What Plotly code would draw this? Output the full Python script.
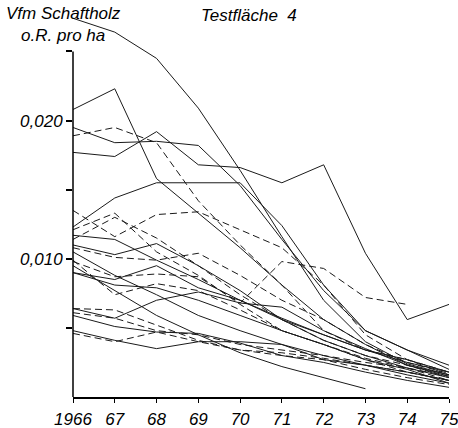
import plotly.graph_objects as go

# Jahre der Aufnahmen (x-Achse)
years = [1966, 1967, 1968, 1969, 1970, 1971, 1972, 1973, 1974, 1975]
year_labels = ["1966", "67", "68", "69", "70", "71", "72", "73", "74", "75"]

# Vfm Schaftholz o.R. pro ha, einzelne Bäume der Testfläche 4
s01 = [0.0274, 0.0264, 0.0245, 0.0209, 0.0164, 0.0116, 0.0070, 0.0040, 0.0024, 0.0016]
s02 = [0.0208, 0.0223, 0.0158, 0.0133, 0.0108, 0.0081, 0.0056, 0.0038, 0.0023, 0.0016]
s03 = [0.0195, 0.0184, 0.0185, 0.0182, 0.0153, 0.0114, 0.0077, 0.0048, 0.0034, 0.0023]
s04 = [0.0177, 0.0174, 0.0192, 0.0168, 0.0166, 0.0155, 0.0168, 0.0104, 0.0056, 0.0067]
s05 = [0.0123, 0.0144, 0.0155, 0.0155, 0.0155, 0.0124, 0.0081, 0.0048, 0.0034, 0.0020]
s06 = [0.0189, 0.0195, 0.0184, 0.0142, 0.0110, 0.0081, 0.0048, 0.0034, 0.0027, 0.0018]
s07 = [0.0135, 0.0116, 0.0132, 0.0134, 0.0121, 0.0108, 0.0081, 0.0045, 0.0027, 0.0016]
s08 = [0.0121, 0.0133, 0.0105, 0.0088, 0.0067, 0.0048, 0.0038, 0.0027, 0.0018, 0.0012]
s09 = [0.0114, 0.0130, 0.0115, 0.0095, 0.0074, 0.0056, 0.0041, 0.0030, 0.0023, 0.0014]
s10 = [0.0110, 0.0103, 0.0111, 0.0095, 0.0077, 0.0056, 0.0041, 0.0030, 0.0021, 0.0014]
s11 = [0.0108, 0.0101, 0.0099, 0.0104, 0.0088, 0.0070, 0.0056, 0.0038, 0.0025, 0.0017]
s12 = [0.0105, 0.0088, 0.0074, 0.0059, 0.0048, 0.0038, 0.0030, 0.0023, 0.0018, 0.0012]
s13 = [0.0099, 0.0074, 0.0082, 0.0077, 0.0063, 0.0048, 0.0038, 0.0028, 0.0021, 0.0012]
s14 = [0.0098, 0.0087, 0.0089, 0.0087, 0.0068, 0.0098, 0.0093, 0.0072, 0.0067, None]
s15 = [0.0090, 0.0085, 0.0095, 0.0079, 0.0070, 0.0056, 0.0045, 0.0034, 0.0027, 0.0018]
s16 = [0.0090, 0.0081, 0.0079, 0.0070, 0.0059, 0.0048, 0.0038, 0.0027, 0.0020, 0.0010]
s17 = [0.0064, 0.0057, 0.0070, 0.0076, 0.0068, 0.0065, 0.0048, 0.0035, 0.0023, 0.0015]
s18 = [0.0064, 0.0063, 0.0052, 0.0041, 0.0034, 0.0030, 0.0027, 0.0020, 0.0014, 0.0009]
s19 = [0.0059, 0.0051, 0.0047, 0.0046, 0.0039, 0.0030, 0.0025, 0.0018, 0.0012, 0.0007]
s20 = [0.0048, 0.0041, 0.0035, 0.0040, 0.0040, 0.0038, 0.0027, 0.0023, 0.0016, 0.0010]
s21 = [0.0046, 0.0040, 0.0047, 0.0040, 0.0034, 0.0032, 0.0028, 0.0023, 0.0018, 0.0012]
s22 = [0.0095, 0.0077, 0.0059, 0.0045, 0.0032, 0.0022, 0.0014, 0.0006, None, None]
s23 = [0.0117, 0.0114, 0.0099, 0.0085, 0.0070, 0.0057, 0.0045, 0.0034, 0.0025, 0.0018]
s24 = [0.0061, 0.0057, 0.0048, 0.0045, 0.0038, 0.0034, 0.0030, 0.0025, 0.0021, 0.0015]

series = [s01, s02, s03, s04, s05, s06, s07, s08, s09, s10, s11, s12,
          s13, s14, s15, s16, s17, s18, s19, s20, s21, s22, s23, s24]
dashed = {"s06", "s07", "s08", "s09", "s11", "s13", "s14", "s18", "s21", "s24"}
names = [f"s{i:02d}" for i in range(1, len(series) + 1)]

FONT = "Liberation Sans"
INK = "#1a1a1a"

fig = go.Figure()
for name, vals in zip(names, series):
    fig.add_trace(go.Scatter(
        x=years, y=vals, mode="lines", name=name,
        line=dict(color=INK, width=1,
                  dash="7px,4px" if name in dashed else "solid"),
        connectgaps=False, hoverinfo="skip",
    ))

# senkrechte Achse nur bis 0,025
fig.add_shape(type="line", xref="paper", yref="y", x0=0, x1=0, y0=0, y1=0.025,
              line=dict(color="black", width=1.5))

text_font = dict(family=FONT, size=17, color="black", style="italic")
fig.update_layout(
    width=458, height=428,
    margin=dict(l=73, r=9, t=10, b=31, autoexpand=False),
    paper_bgcolor="white", plot_bgcolor="white",
    showlegend=False,
    xaxis=dict(range=[1966, 1975], tickvals=years, ticktext=year_labels,
               showline=True, linecolor="black", linewidth=1.5,
               ticks="outside", ticklen=4, tickcolor="black",
               ticklabelstandoff=2, ticklabeloverflow="allow", automargin=False,
               showgrid=False, zeroline=False, tickfont=text_font),
    yaxis=dict(range=[0, 0.028],
               tickvals=[0.005, 0.010, 0.015, 0.020, 0.025],
               ticktext=["", "0,010", "", "0,020", ""],
               showline=False, ticks="outside", ticklen=6, tickcolor="black",
               tickwidth=1.5, automargin=False,
               showgrid=False, zeroline=False, tickfont=text_font),
    annotations=[
        dict(text="Vfm Schaftholz<br>o.R. pro ha", xref="paper", yref="paper",
             x=-0.183, y=0.962, xanchor="left", yanchor="middle", align="center",
             showarrow=False, font=text_font),
        dict(text="Testfläche  4", xref="paper", yref="paper", x=0.336, y=0.9845,
             xanchor="left", yanchor="middle", showarrow=False, font=text_font),
    ],
)

fig.write_html("out.html")
